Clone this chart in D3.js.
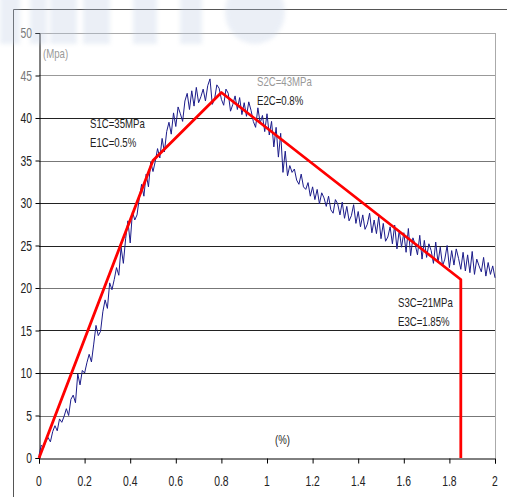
<!DOCTYPE html>
<html>
<head>
<meta charset="utf-8">
<script src="https://cdn.jsdelivr.net/npm/d3@7"></script>
<style>
  body { margin: 0; background: #fff; }
  text { font-family: "Liberation Sans", Arial, sans-serif; }
</style>
</head>
<body>
<div id="chart"></div>
<script>
// strain (%) sampled every 0.01
var strainStep = 0.01;
var stress = [
  0.3, 1.5, 1.2, 2.0, 2.4, 1.9, 3.1, 3.8, 3.2, 4.6,
  4.2, 4.9, 5.8, 5.0, 6.9, 7.4, 6.5, 9.9, 8.6, 10.3,
  10.0, 11.2, 12.2, 11.3, 13.4, 15.6, 14.4, 14.9, 17.2, 18.6,
  17.6, 20.6, 19.8, 21.0, 22.4, 21.5, 24.8, 22.9, 25.8, 27.9,
  25.3, 29.0, 28.0, 28.6, 30.6, 32.2, 30.8, 33.4, 31.9, 34.8,
  33.7, 34.9, 36.4, 35.3, 37.6, 36.0, 38.4, 39.5, 38.1, 40.6,
  39.0, 41.3, 40.5, 39.6, 42.0, 42.9, 41.0, 43.2, 41.4, 43.6,
  41.8, 42.5, 43.4, 42.0, 43.8, 44.6, 41.6, 42.2, 43.9, 43.5,
  42.2, 41.5, 43.4, 42.9, 40.8, 41.6, 42.6, 41.0, 42.4, 40.4,
  41.8, 40.2, 41.9, 40.9, 39.6, 38.9, 41.2, 39.4, 40.3, 38.4,
  40.5, 38.0, 39.6, 36.6, 38.9, 35.4, 38.2, 33.6, 36.1, 33.2,
  34.4, 33.6, 34.0, 32.7, 32.2, 33.4, 31.9, 31.6, 32.4, 30.8,
  31.9, 30.4, 31.6, 29.9, 31.2, 30.6, 29.6, 30.8, 29.2, 28.8,
  30.4, 29.9, 28.6, 30.1, 28.2, 29.6, 27.9, 28.5, 29.8, 27.6,
  29.0, 27.2, 28.6, 26.9, 27.5, 28.8, 26.5, 28.0, 26.4, 28.4,
  25.8, 27.6, 25.5, 26.0, 27.2, 25.2, 27.4, 24.6, 26.8, 24.8,
  26.5, 24.2, 27.0, 23.8, 25.9, 25.1, 23.9, 26.2, 23.4, 25.6,
  23.6, 25.2, 24.4, 22.9, 25.4, 23.0, 24.8, 22.6, 23.4, 25.0,
  22.4, 24.4, 22.7, 24.6, 23.5, 22.2, 24.2, 22.0, 23.9, 21.8,
  24.3, 21.6, 23.4, 22.6, 21.9, 23.6, 21.4, 23.0, 21.6, 22.6,
  21.2
];

// simplified model (red)
var modelStrain = [0, 0.5, 0.8, 1.85, 1.85];
var modelStress = [0, 35, 43, 21, 0];

var xTicks = [0, 0.2, 0.4, 0.6, 0.8, 1, 1.2, 1.4, 1.6, 1.8, 2];
var yTicks = [0, 5, 10, 15, 20, 25, 30, 35, 40, 45, 50];

var notes = [
  { lines: ["S1C=35MPa", "E1C=0.5%"], x: 90, y: 128, colors: ["#222", "#222"] },
  { lines: ["S2C=43MPa", "E2C=0.8%"], x: 257, y: 86, colors: ["#999", "#222"] },
  { lines: ["S3C=21MPa", "E3C=1.85%"], x: 398, y: 307, colors: ["#222", "#222"] }
];

var svg = d3.select("#chart").append("svg")
  .attr("width", 507)
  .attr("height", 497);

// plot area (window.top is taken, so prefixed names)
var plotLeft = 39, plotRight = 495, plotTop = 33, plotBottom = 458;

var x = d3.scaleLinear().domain([0, 2]).range([plotLeft, plotRight]);
var y = d3.scaleLinear().domain([0, 50]).range([plotBottom, plotTop]);

// condensed text helper
function label(g, tx, ty, str, size, color, anchor) {
  return g.append("text")
    .attr("transform", `translate(${tx},${ty}) scale(0.74,1)`)
    .attr("font-size", size)
    .attr("fill", color)
    .attr("text-anchor", anchor || "start")
    .text(str);
}

// outer frame
svg.append("path")
  .attr("d", "M13.5,497 V9.5 H507")
  .attr("fill", "none")
  .attr("stroke", "#555")
  .attr("stroke-width", 1);

// gridlines
svg.append("g").selectAll("line")
  .data(yTicks.filter(d => d > 0))
  .enter().append("line")
  .attr("x1", plotLeft).attr("x2", plotRight)
  .attr("y1", d => Math.round(y(d)) + 0.5)
  .attr("y2", d => Math.round(y(d)) + 0.5)
  .attr("stroke", d => d == 50 ? "#aaa" : d == 45 ? "#999" : (d == 35 || d == 20 || d == 5) ? "#777" : "#222")
  .attr("stroke-width", 1);

// right border
svg.append("line")
  .attr("x1", plotRight + 0.5).attr("x2", plotRight + 0.5)
  .attr("y1", plotTop).attr("y2", plotBottom)
  .attr("stroke", "#aaa");

// axes
var xAxis = d3.axisBottom(x).tickValues(xTicks).tickSize(5).tickFormat("");
var yAxis = d3.axisLeft(y).tickValues(yTicks).tickSize(4).tickFormat("");

svg.append("g")
  .attr("transform", `translate(0,${plotBottom + 0.5})`)
  .call(xAxis)
  .call(g => g.select(".domain").attr("stroke", "#000"))
  .call(g => g.selectAll(".tick line").attr("stroke", "#000"));

svg.append("g")
  .attr("transform", `translate(${plotLeft + 0.5},0)`)
  .call(yAxis)
  .call(g => g.select(".domain").attr("stroke", "#000"))
  .call(g => g.selectAll(".tick line").attr("stroke", "#000"));

var labels = svg.append("g");
xTicks.forEach(function(d) {
  label(labels, x(d), 486, d3.format("~g")(d), 14, "#222", "middle");
});
yTicks.forEach(function(d) {
  label(labels, 32, y(d) + 5, String(d), 14, d >= 45 ? "#777" : "#222", "end");
});

label(labels, 43, 58, "(Mpa)", 13, "#999");
label(labels, 275, 444, "(%)", 13, "#222");

// measured curve
var measured = d3.line()
  .x((d, i) => x(i * strainStep))
  .y(d => y(d));

svg.append("path")
  .datum(stress)
  .attr("d", measured)
  .attr("fill", "none")
  .attr("stroke", "#1c1c8a")
  .attr("stroke-width", 1)
  .attr("stroke-linejoin", "round");

// model curve
var model = d3.line()
  .x((d, i) => x(modelStrain[i]))
  .y(d => y(d));

svg.append("path")
  .datum(modelStress)
  .attr("d", model)
  .attr("fill", "none")
  .attr("stroke", "#ff0000")
  .attr("stroke-width", 2.8)
  .attr("stroke-linejoin", "round");

// annotations
notes.forEach(function(n) {
  n.lines.forEach(function(t, i) {
    label(labels, n.x, n.y + i * 19, t, 13, n.colors[i]);
  });
});

// faint watermark at the top
svg.append("filter").attr("id", "soft")
  .append("feGaussianBlur").attr("stdDeviation", 2);
var wm = svg.append("g").attr("opacity", 0.28).attr("filter", "url(#soft)");
var blocks = [[0, 20], [30, 17], [50, 27], [83, 27], [133, 24], [180, 22]];
blocks.forEach(function(b) {
  wm.append("rect")
    .attr("x", b[0]).attr("y", -4)
    .attr("width", b[1]).attr("height", 48)
    .attr("fill", "#b8c8e2");
});
wm.append("ellipse")
  .attr("cx", 255).attr("cy", 12)
  .attr("rx", 30).attr("ry", 32)
  .attr("fill", "#b8c8e2");
</script>
</body>
</html>
